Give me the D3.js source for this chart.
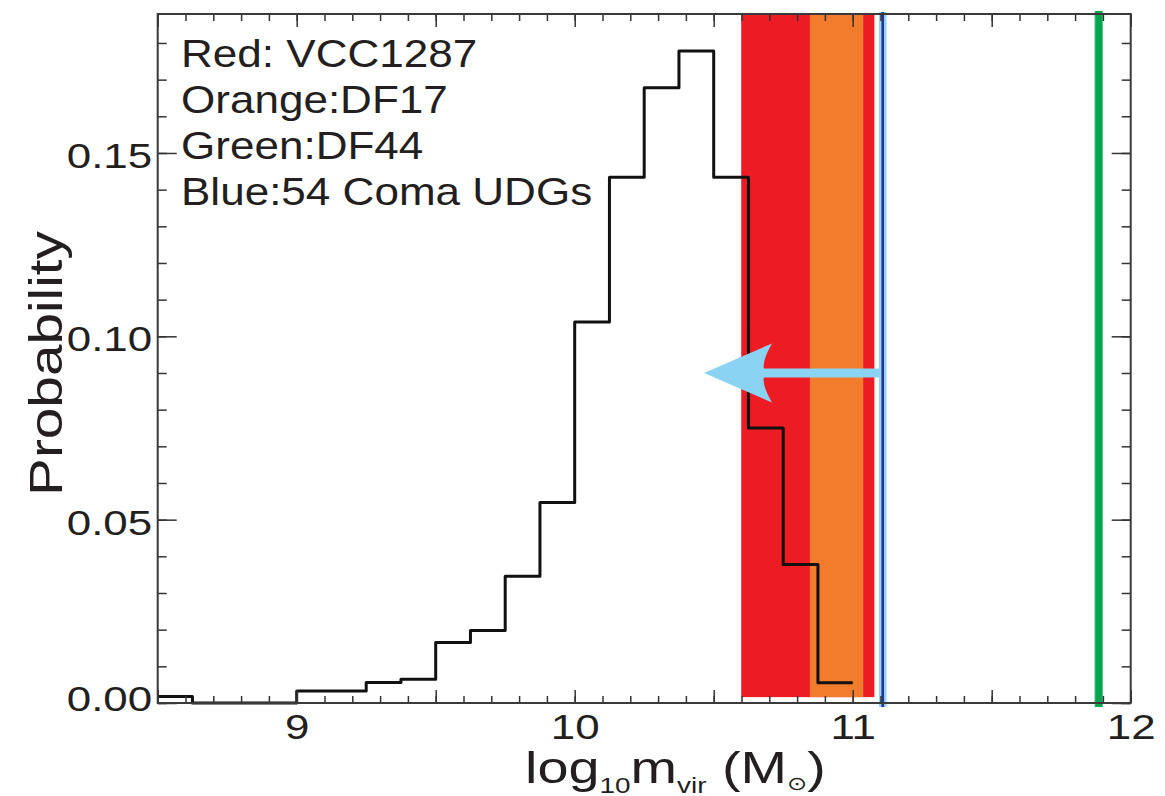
<!DOCTYPE html>
<html><head><meta charset="utf-8">
<script src="https://cdn.jsdelivr.net/npm/d3@7"></script>
<style>
body{margin:0;background:#fff}
svg{display:block}
text{font-family:"Liberation Sans",Arial,Helvetica,sans-serif;fill:#231f20}
</style>
</head><body>
<svg id="c" width="1165" height="796"></svg>
<script>
// ---------------- data ----------------
const binStarts = [8.5, 8.625, 8.75, 8.875, 9.0, 9.125, 9.25, 9.375, 9.5, 9.625,
                   9.75, 9.875, 10.0, 10.125, 10.25, 10.375, 10.5, 10.625, 10.75, 10.875];
const binEnd = 11.0;
const probability = [0.0018, 0, 0, 0, 0.0033, 0.0033, 0.0056, 0.0065, 0.0165, 0.0198,
                     0.0346, 0.0547, 0.1039, 0.1434, 0.1678, 0.1778, 0.1434, 0.0750, 0.0378, 0.0055];
const xMajorTicks = [8.5, 9, 9.5, 10, 10.5, 11, 11.5, 12];
const xTickLabels = [9, 10, 11, 12];
const yMajorTicks = [0, 0.05, 0.10, 0.15];
const yTickLabels = ["0.00", "0.05", "0.10", "0.15"];
const legendLines = ["Red: VCC1287", "Orange:DF17", "Green:DF44", "Blue:54 Coma UDGs"];
const redBand = [10.599, 11.078];
const orangeBand = [10.846, 11.038];
const blueLineX = 11.108;
const greenLineX = 11.885;
const arrowFrom = 11.108, arrowTo = 10.465, arrowY = 0.09;
const xDomain = [8.5, 12];
const yDomain = [0, 0.1879];

// ---------------- layout ----------------
const L = 157.7, R = 1130.7, T = 14, B = 703;
const svg = d3.select("#c");
const x = d3.scaleLinear().domain(xDomain).range([L, R]);
const y = d3.scaleLinear().domain(yDomain).range([B, T]);

const xMinor = d3.range(85, 121).map(v => v / 10);
const yMinor = d3.range(0, 19).map(v => v / 100);

// bands
const bandBottom = y(0.0016);
svg.append("rect").attr("x", x(redBand[0])).attr("width", x(redBand[1]) - x(redBand[0]))
  .attr("y", T).attr("height", bandBottom - T).attr("fill", "#ed1c24");
svg.append("rect").attr("x", x(orangeBand[0])).attr("width", x(orangeBand[1]) - x(orangeBand[0]))
  .attr("y", T).attr("height", bandBottom - T).attr("fill", "#f27b2c");

// histogram
const pts = binStarts.map((b, i) => [b, probability[i]]);
pts.push([binEnd, probability[probability.length - 1]]);
svg.append("path").datum(pts)
  .attr("d", d3.line().x(d => x(d[0])).y(d => y(d[1])).curve(d3.curveStepAfter))
  .attr("fill", "none").attr("stroke", "#111").attr("stroke-width", 3)
  .attr("stroke-linejoin", "round");

// arrow
{
  const tx = x(arrowTo), ex = x(arrowFrom), yy = y(arrowY);
  const hl = 68, hw = 29.5, sh = 4.5;
  const p = `M${tx},${yy} L${tx + hl},${yy - hw} Q${tx + 58},${yy - 12} ${tx + 60},${yy - sh}
    L${ex},${yy - sh} L${ex},${yy + sh} L${tx + 60},${yy + sh}
    Q${tx + 58},${yy + 12} ${tx + hl},${yy + hw} Z`;
  svg.append("path").attr("d", p).attr("fill", "#8ad3f3");
}

// blue line
svg.append("line").attr("x1", x(blueLineX)).attr("x2", x(blueLineX)).attr("y1", T - 2).attr("y2", B + 4)
  .attr("stroke", "#8fd6f6").attr("stroke-width", 7.5);
svg.append("line").attr("x1", x(blueLineX)).attr("x2", x(blueLineX)).attr("y1", T - 2).attr("y2", B + 4)
  .attr("stroke", "#2e3192").attr("stroke-width", 2.6);

// green line
svg.append("line").attr("x1", x(greenLineX)).attr("x2", x(greenLineX)).attr("y1", T - 3).attr("y2", B + 4)
  .attr("stroke", "#5cc27f").attr("stroke-width", 8.5);
svg.append("line").attr("x1", x(greenLineX)).attr("x2", x(greenLineX)).attr("y1", T - 3).attr("y2", B + 4)
  .attr("stroke", "#00a651").attr("stroke-width", 6.5);

// ---------------- axes ----------------
const tickColor = "#333";
function styleAxis(g) {
  g.select(".domain").remove();
  g.selectAll(".tick line").attr("stroke", tickColor).attr("stroke-width", 1.5);
}
const noLab = () => "";
// bottom
svg.append("g").attr("transform", `translate(0,${B})`)
  .call(d3.axisBottom(x).tickValues(xMinor).tickSize(-7).tickFormat(noLab)).call(styleAxis);
const gb = svg.append("g").attr("transform", `translate(0,${B})`)
  .call(d3.axisBottom(x).tickValues(xMajorTicks).tickSize(-13)
    .tickFormat(d => xTickLabels.includes(d) ? String(d) : "")).call(styleAxis);
gb.selectAll(".tick text").attr("y", 36).attr("dy", 0).attr("font-size", 36)
  .attr("fill", "#231f20").attr("transform", "scale(1.22,1)");
// top
svg.append("g").attr("transform", `translate(0,${T})`)
  .call(d3.axisTop(x).tickValues(xMinor).tickSize(-7).tickFormat(noLab)).call(styleAxis);
svg.append("g").attr("transform", `translate(0,${T})`)
  .call(d3.axisTop(x).tickValues(xMajorTicks).tickSize(-13).tickFormat(noLab)).call(styleAxis);
// left
svg.append("g").attr("transform", `translate(${L},0)`)
  .call(d3.axisLeft(y).tickValues(yMinor).tickSize(-9).tickFormat(noLab)).call(styleAxis);
const gl = svg.append("g").attr("transform", `translate(${L},0)`)
  .call(d3.axisLeft(y).tickValues(yMajorTicks).tickSize(-19)
    .tickFormat((d, i) => yTickLabels[i])).call(styleAxis);
gl.selectAll(".tick text").attr("x", 0).attr("dy", 0).attr("font-size", 36)
  .attr("fill", "#231f20").attr("text-anchor", "end")
  .attr("y", d => d === 0 ? 7 : 14.5)
  .attr("transform", "translate(-5.5,0) scale(1.22,1)");
// right
svg.append("g").attr("transform", `translate(${R},0)`)
  .call(d3.axisRight(y).tickValues(yMinor).tickSize(-9).tickFormat(noLab)).call(styleAxis);
svg.append("g").attr("transform", `translate(${R},0)`)
  .call(d3.axisRight(y).tickValues(yMajorTicks).tickSize(-19).tickFormat(noLab)).call(styleAxis);

// frame
svg.append("rect").attr("x", L).attr("y", T).attr("width", R - L).attr("height", B - T)
  .attr("fill", "none").attr("stroke", "#3a3a3a").attr("stroke-width", 2);

// ---------------- legend ----------------
svg.append("g").selectAll("text").data(legendLines).join("text")
  .attr("transform", (d, i) => `translate(181,${66.6 + i * 46}) scale(1.115,1)`)
  .attr("font-size", 39.5).text(d => d);

// ---------------- axis titles ----------------
const yt = svg.append("text").attr("font-size", 46).attr("text-anchor", "middle").text("Probability");
{
  const w = yt.node().getBBox().width;
  const s = 265 / w;
  yt.attr("transform", `translate(62,363.5) rotate(-90) scale(${s},1)`);
}
const xt = svg.append("text").attr("font-size", 44);
xt.append("tspan").text("log");
xt.append("tspan").attr("font-size", 22).attr("dy", 10).text("10");
xt.append("tspan").attr("dy", -10).text("m");
xt.append("tspan").attr("font-size", 22).attr("dy", 10).text("vir");
xt.append("tspan").attr("dy", -10).text(" (M");
xt.append("tspan").attr("font-size", 19).attr("dy", 7).attr("font-family", "DejaVu Sans").text("\u2299");
xt.append("tspan").attr("dy", -7).text(")");
{
  const w = xt.node().getBBox().width;
  const s = 301 / w;
  xt.attr("transform", `translate(525,783) scale(${s},1)`);
}
</script>
</body></html>
